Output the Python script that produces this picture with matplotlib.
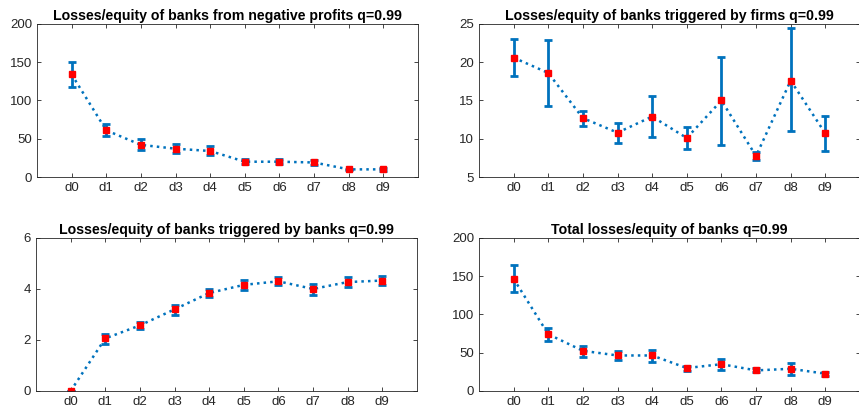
import numpy as np
import matplotlib
matplotlib.use("Agg")
import matplotlib.pyplot as plt

plt.rcParams['font.family'] = ['Liberation Sans', 'DejaVu Sans']

labels = ['d0', 'd1', 'd2', 'd3', 'd4', 'd5', 'd6', 'd7', 'd8', 'd9']

# losses from negative profits
neg_mean = [134, 61, 42, 37, 34, 20, 20, 19, 10, 10]
neg_lo = [118, 53, 35.5, 31, 28.5, 17.5, 17, 16, 9, 8]
neg_hi = [150, 69, 50, 43, 41, 23, 24, 22, 11, 12]

# triggered by firms
firm_mean = [20.6, 18.6, 12.7, 10.8, 12.9, 10.1, 15.0, 7.75, 17.6, 10.7]
firm_lo = [18.2, 14.3, 11.7, 9.5, 10.2, 8.7, 9.2, 7.2, 11.0, 8.4]
firm_hi = [23.0, 22.9, 13.6, 12.1, 15.6, 11.5, 20.7, 8.3, 24.5, 13.0]

# triggered by banks
bank_mean = [0, 2.06, 2.57, 3.2, 3.84, 4.16, 4.3, 4.0, 4.27, 4.33]
bank_lo = [0, 1.86, 2.44, 2.99, 3.69, 3.97, 4.14, 3.76, 4.08, 4.14]
bank_hi = [0, 2.25, 2.70, 3.39, 4.00, 4.34, 4.46, 4.21, 4.47, 4.51]

# total
tot_mean = [146.6, 74.2, 52.5, 46.4, 46.4, 30, 35, 26.9, 29, 22.6]
tot_lo = [129.3, 65.1, 45, 40, 38.2, 26.5, 27.8, 24.3, 21.3, 20]
tot_hi = [164.4, 82.9, 59, 52, 54.2, 33, 42, 29.5, 36, 24.7]

panels = [
    ("Losses/equity of banks from negative profits q=0.99", neg_mean, neg_lo, neg_hi, (0, 200), [0, 50, 100, 150, 200]),
    ("Losses/equity of banks triggered by firms q=0.99", firm_mean, firm_lo, firm_hi, (5, 25), [5, 10, 15, 20, 25]),
    ("Losses/equity of banks triggered by banks q=0.99", bank_mean, bank_lo, bank_hi, (0, 6), [0, 2, 4, 6]),
    ("Total losses/equity of banks q=0.99", tot_mean, tot_lo, tot_hi, (0, 200), [0, 50, 100, 150, 200]),
]

# axes rectangles in figure fraction
rects = [
    [0.0431, 0.5755, 0.4435, 0.367],
    [0.5576, 0.5755, 0.4435, 0.367],
    [0.0419, 0.0624, 0.4435, 0.367],
    [0.5576, 0.0624, 0.4435, 0.367],
]

blue = '#0072BD'
grey = '#262626'

fig = plt.figure(figsize=(8.59, 4.17), dpi=100)
x = np.arange(len(labels))

for (title, m, lo, hi, ylim, yt), r in zip(panels, rects):
    ax = fig.add_axes(r)
    m = np.array(m)
    err = [m - np.array(lo), np.array(hi) - m]
    ax.errorbar(x, m, yerr=err, fmt='none', ecolor=blue, elinewidth=2,
                capsize=3, capthick=2)
    ax.plot(x, m, ':', color=blue, lw=1.8)
    ax.plot(x, m, 's', color='red', ms=4.5, mec='red')
    ax.set_xlim(-1, 10)
    ax.set_ylim(*ylim)
    ax.set_yticks(yt)
    ax.set_xticks(x)
    ax.set_xticklabels(labels)
    ax.set_title(title, fontsize=10.2, fontweight='bold', pad=3)
    ax.tick_params(direction='in', top=True, right=True, length=3,
                   labelsize=9.5, colors=grey, width=0.6)
    for s in ax.spines.values():
        s.set_color(grey)
        s.set_linewidth(0.6)

fig.savefig('out.png', dpi=100)
